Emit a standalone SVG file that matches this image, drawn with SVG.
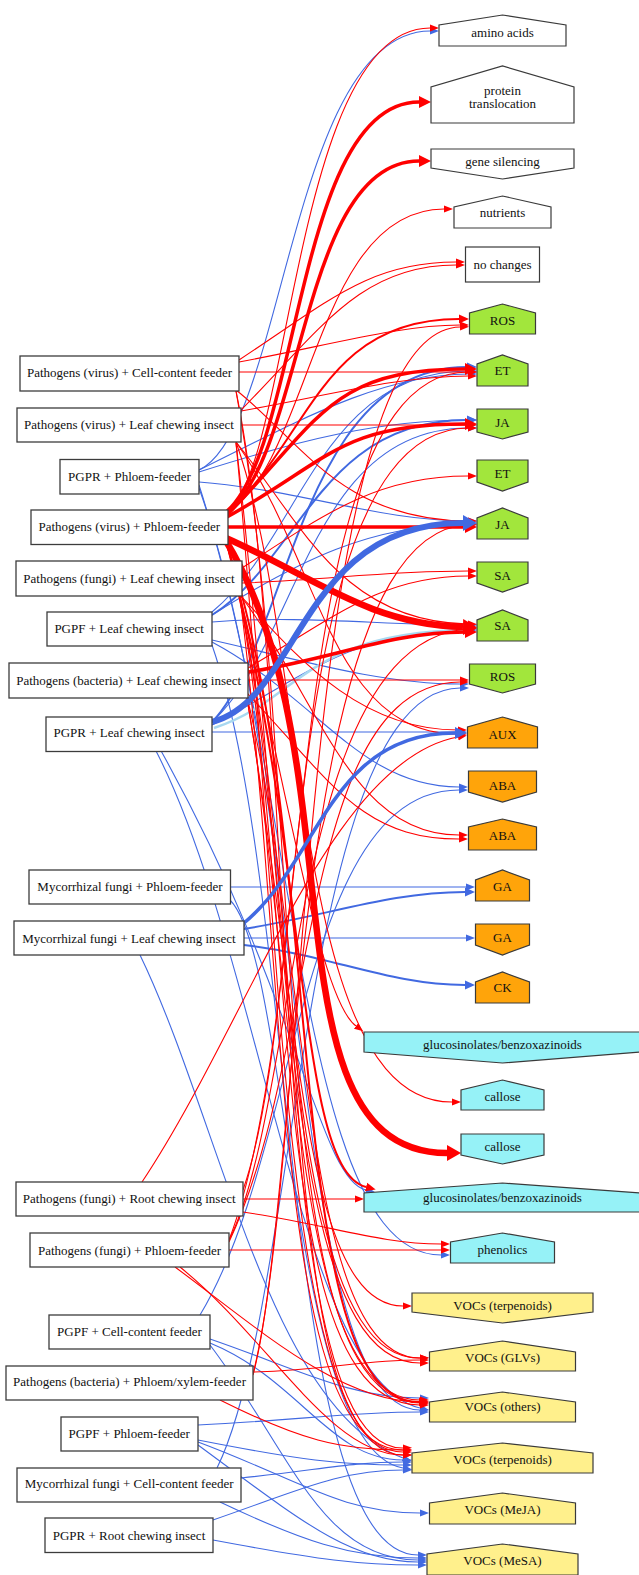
<svg xmlns="http://www.w3.org/2000/svg" width="639" height="1575" viewBox="0 0 639 1575">
<style>
  .e path{fill:none}
  .r1{stroke:#ff0000;stroke-width:1.1;marker-end:url(#ar1)}
  .r2{stroke:#ff0000;stroke-width:2;marker-end:url(#ar2)}
  .r3{stroke:#ff0000;stroke-width:3.5;marker-end:url(#ar3)}
  .r4{stroke:#ff0000;stroke-width:6.5;marker-end:url(#ar4)}
  .b1{stroke:#4169e1;stroke-width:1.1;marker-end:url(#ab1)}
  .b2{stroke:#4169e1;stroke-width:2;marker-end:url(#ab2)}
  .b3{stroke:#4169e1;stroke-width:3.5;marker-end:url(#ab3)}
  .b4{stroke:#4169e1;stroke-width:6;marker-end:url(#ab4)}
  .lb{stroke:#a8d8f0;stroke-width:2.5}
  .src rect{fill:#ffffff;stroke:#3c3c3c;stroke-width:1.3}
  .tg polygon,.tg rect{stroke:#3a3a3a;stroke-width:1.2}
  .wh{fill:#ffffff}
  .gr{fill:#a2e63c}
  .or{fill:#ffa40a}
  .cy{fill:#96f2f7}
  .ye{fill:#fff08c}
  text{font-family:"Liberation Serif","Times New Roman",serif;font-size:13px;fill:#111111;text-anchor:middle}
</style>
<defs>
  <marker id="ar1" markerUnits="userSpaceOnUse" viewBox="0 -5 10 10" markerWidth="10" markerHeight="10" refX="0" refY="0" orient="auto"><path d="M0,-3.5L9,0L0,3.5z" fill="#ff0000"/></marker>
  <marker id="ar2" markerUnits="userSpaceOnUse" viewBox="0 -6 12 12" markerWidth="12" markerHeight="12" refX="0" refY="0" orient="auto"><path d="M0,-4.5L10,0L0,4.5z" fill="#ff0000"/></marker>
  <marker id="ar3" markerUnits="userSpaceOnUse" viewBox="0 -7 13 14" markerWidth="13" markerHeight="14" refX="0" refY="0" orient="auto"><path d="M0,-6L12,0L0,6z" fill="#ff0000"/></marker>
  <marker id="ar4" markerUnits="userSpaceOnUse" viewBox="0 -9 15 18" markerWidth="15" markerHeight="18" refX="0" refY="0" orient="auto"><path d="M0,-8L14,0L0,8z" fill="#ff0000"/></marker>
  <marker id="ab1" markerUnits="userSpaceOnUse" viewBox="0 -5 10 10" markerWidth="10" markerHeight="10" refX="0" refY="0" orient="auto"><path d="M0,-3.5L9,0L0,3.5z" fill="#4169e1"/></marker>
  <marker id="ab2" markerUnits="userSpaceOnUse" viewBox="0 -6 12 12" markerWidth="12" markerHeight="12" refX="0" refY="0" orient="auto"><path d="M0,-4.5L10,0L0,4.5z" fill="#4169e1"/></marker>
  <marker id="ab3" markerUnits="userSpaceOnUse" viewBox="0 -7 13 14" markerWidth="13" markerHeight="14" refX="0" refY="0" orient="auto"><path d="M0,-6L12,0L0,6z" fill="#4169e1"/></marker>
  <marker id="ab4" markerUnits="userSpaceOnUse" viewBox="0 -9 15 18" markerWidth="15" markerHeight="18" refX="0" refY="0" orient="auto"><path d="M0,-8L14,0L0,8z" fill="#4169e1"/></marker>
</defs>

<!-- connectors: pathogen combinations in red, beneficial microbes in blue -->
<g id="edges" class="e">
  <!-- thin blue -->
  <path class="b1" d="M199,470 C285,430 290,32 430,31"/>
  <path class="b1" d="M199,470 C300,420 380,375 468,374"/>
  <path class="b1" d="M199,472 C300,440 380,420 468,420"/>
  <path class="b1" d="M199,482 C300,490 380,521 468,521"/>
  <path class="b1" d="M199,485 C300,800 300,1255 441,1255"/>
  <path class="b1" d="M199,488 C310,800 290,1410 420,1410"/>
  <path class="b1" d="M212,612 C300,540 320,371 468,371"/>
  <path class="b1" d="M212,615 C300,560 370,525 468,524"/>
  <path class="b1" d="M212,622 C300,615 380,625 468,625"/>
  <path class="b1" d="M212,640 C300,660 380,684 460,684"/>
  <path class="b1" d="M212,642 C320,700 360,787 459,787"/>
  <path class="b1" d="M212,645 C300,900 280,1555 418,1555"/>
  <path class="b1" d="M212,722 C300,640 310,428 468,428"/>
  <path class="b1" d="M212,725 C300,680 350,630 468,630"/>
  <path class="b1" d="M212,732 L458,732"/>
  <path class="b1" d="M160,749 C300,1000 320,1180 366,1190"/>
  <path class="b1" d="M155,749 C260,950 300,1380 420,1408"/>
  <path class="b1" d="M231,887 L466,887"/>
  <path class="b1" d="M230,900 C290,960 290,1450 403,1468"/>
  <path class="b1" d="M244,938 L466,938"/>
  <path class="b1" d="M140,955 C220,1120 270,1410 403,1458"/>
  <path class="b1" d="M200,1315 C300,1150 300,790 459,790"/>
  <path class="b1" d="M210,1339 C300,1370 350,1398 420,1398"/>
  <path class="b1" d="M210,1343 C300,1380 330,1460 403,1460"/>
  <path class="b1" d="M210,1345 C290,1450 320,1560 418,1560"/>
  <path class="b1" d="M198,1425 C300,1420 350,1412 420,1412"/>
  <path class="b1" d="M198,1440 C300,1460 340,1465 403,1465"/>
  <path class="b1" d="M198,1442 C300,1480 340,1513 420,1513"/>
  <path class="b1" d="M198,1445 C300,1520 350,1562 418,1562"/>
  <path class="b1" d="M217,1468 C300,1300 300,690 460,688"/>
  <path class="b1" d="M241,1478 C320,1470 350,1462 403,1462"/>
  <path class="b1" d="M220,1502 C300,1540 350,1558 418,1558"/>
  <path class="b1" d="M213,1520 C300,1490 340,1470 403,1470"/>
  <path class="b1" d="M213,1540 C320,1560 360,1565 418,1565"/>
  <!-- medium blue -->
  <path class="b2" d="M212,722 C290,640 300,367 467,367"/>
  <path class="b2" d="M212,615 C300,560 320,420 467,420"/>
  <path class="b2" d="M244,929 C330,915 390,892 465,892"/>
  <path class="b2" d="M244,945 C330,955 390,985 465,985"/>
  <path class="lb" d="M214,728 C300,700 305,632 468,630"/>

  <!-- thin red -->
  <path class="r1" d="M225,514 C292,470 292,28 430,28"/>
  <path class="r1" d="M226,514 C312,460 315,209 444,209"/>
  <path class="r1" d="M239,360 C330,300 370,262 456,262"/>
  <path class="r1" d="M241,410 C320,330 360,265 456,265"/>
  <path class="r1" d="M239,362 C330,345 400,325 460,325"/>
  <path class="r1" d="M239,372 L468,372"/>
  <path class="r1" d="M241,411 C330,395 400,376 468,376"/>
  <path class="r1" d="M241,425 L468,425"/>
  <path class="r1" d="M242,568 C330,510 380,476 468,476"/>
  <path class="r1" d="M236,390 C300,440 340,520 468,521"/>
  <path class="r1" d="M242,583 C330,580 380,571 468,571"/>
  <path class="r1" d="M248,668 C330,620 380,576 468,576"/>
  <path class="r1" d="M236,442 C300,520 340,622 468,624"/>
  <path class="r1" d="M248,680 L460,680"/>
  <path class="r1" d="M240,595 C300,660 360,730 458,730"/>
  <path class="r1" d="M236,442 C320,560 330,734 458,734"/>
  <path class="r1" d="M240,595 C320,700 350,835 459,835"/>
  <path class="r1" d="M246,692 C330,780 360,839 459,839"/>
  <path class="r1" d="M240,596 C290,800 320,1000 356,1026"/>
  <path class="r1" d="M236,442 C310,650 290,1102 452,1102"/>
  <path class="r1" d="M243,1199 L355,1199"/>
  <path class="r1" d="M243,1212 C330,1225 380,1244 441,1244"/>
  <path class="r1" d="M229,1250 L441,1250"/>
  <path class="r1" d="M246,693 C300,1000 300,1306 403,1306"/>
  <path class="r1" d="M253,1372 C330,1370 360,1360 420,1360"/>
  <path class="r1" d="M236,443 C290,900 280,1363 420,1363"/>
  <path class="r1" d="M175,1267 C260,1330 340,1402 420,1402"/>
  <path class="r1" d="M220,1400 C300,1440 340,1450 403,1450"/>
  <path class="r1" d="M180,1267 C270,1340 330,1455 403,1455"/>
  <path class="r1" d="M142,1182 C250,1020 330,760 458,737"/>
  <path class="r1" d="M226,542 C300,800 270,1361 420,1358"/>
  <path class="r1" d="M236,391 C300,700 260,1450 403,1448"/>
  <path class="r1" d="M226,542 C320,900 270,1452 403,1452"/>
  <path class="r1" d="M240,597 C300,950 270,1405 420,1405"/>
  <path class="r1" d="M229,1240 C300,1100 290,640 468,629"/>
  <path class="r1" d="M236,391 C310,800 260,1400 420,1403"/>
  <path class="r1" d="M236,443 C280,900 280,1455 403,1455"/>
  <path class="r1" d="M240,597 C290,1000 275,1450 403,1450"/>
  <path class="r1" d="M246,693 C300,1000 290,1400 420,1400"/>
  <path class="r1" d="M246,693 C310,950 300,1358 420,1358"/>
  <path class="r1" d="M229,1240 C320,1000 280,372 468,372"/>
  <path class="r1" d="M253,1375 C300,1200 290,530 468,525"/>
  <path class="r1" d="M243,1190 C310,1000 280,430 468,428"/>
  <path class="r1" d="M229,1242 C320,1050 300,684 460,682"/>
  <path class="r1" d="M253,1374 C310,1150 300,330 460,327"/>
  <!-- medium and thick red -->
  <path class="r2" d="M226,514 C310,440 320,319 459,319"/>
  <path class="r2" d="M240,597 C310,900 300,1170 366,1187"/>
  <path class="r2" d="M226,542 C330,850 280,1402 419,1402"/>
  <path class="r3" d="M226,512 C300,450 296,102 419,102"/>
  <path class="r3" d="M226,513 C305,455 300,161 419,161"/>
  <path class="r3" d="M227,515 C320,420 330,369 465,369"/>
  <path class="r3" d="M227,517 C330,460 340,424 465,424"/>
  <path class="r3" d="M228,527 L465,527"/>
  <path class="r3" d="M248,672 C330,660 390,632 465,632"/>
  <path class="r4" d="M226,538 C310,575 370,625 463,627"/>
  <path class="r4" d="M226,541 C360,760 260,1153 447,1153"/>
  <!-- thick blue -->
  <path class="b3" d="M244,923 C320,860 330,733 455,733"/>
  <path class="b4" d="M212,722 C300,700 300,523 463,523"/>
</g>

<!-- interaction nodes -->
<g id="n_virus_cellcontent" class="src"><rect x="20" y="356" width="219" height="35"/><text x="129.5" y="376.5">Pathogens (virus) + Cell-content feeder</text></g>
<g id="n_virus_leafchewing" class="src"><rect x="17" y="408" width="224" height="34"/><text x="129" y="428.5">Pathogens (virus) + Leaf chewing insect</text></g>
<g id="n_pgpr_phloem" class="src"><rect x="60" y="459.5" width="139" height="34.5"/><text x="129.5" y="481">PGPR + Phloem-feeder</text></g>
<g id="n_virus_phloem" class="src"><rect x="31" y="510" width="197" height="34.5"/><text x="129.3" y="531">Pathogens (virus) + Phloem-feeder</text></g>
<g id="n_fungi_leafchewing" class="src"><rect x="16" y="561" width="226" height="35"/><text x="129" y="582.5">Pathogens (fungi) + Leaf chewing insect</text></g>
<g id="n_pgpf_leafchewing" class="src"><rect x="47" y="612" width="165" height="34"/><text x="129.2" y="633">PGPF + Leaf chewing insect</text></g>
<g id="n_bacteria_leafchewing" class="src"><rect x="9" y="663" width="239" height="35"/><text x="128.7" y="684.5">Pathogens (bacteria) + Leaf chewing insect</text></g>
<g id="n_pgpr_leafchewing" class="src"><rect x="46" y="717" width="166" height="34.5"/><text x="129" y="737">PGPR + Leaf chewing insect</text></g>
<g id="n_myc_phloem" class="src"><rect x="29" y="870" width="201.5" height="34"/><text x="130" y="891">Mycorrhizal fungi + Phloem-feeder</text></g>
<g id="n_myc_leafchewing" class="src"><rect x="14" y="921" width="230" height="34"/><text x="129" y="942.5">Mycorrhizal fungi + Leaf chewing insect</text></g>
<g id="n_fungi_rootchewing" class="src"><rect x="16" y="1182" width="227" height="34"/><text x="129.2" y="1202.5">Pathogens (fungi) + Root chewing insect</text></g>
<g id="n_fungi_phloem" class="src"><rect x="30" y="1233" width="199" height="34"/><text x="129.5" y="1254.5">Pathogens (fungi) + Phloem-feeder</text></g>
<g id="n_pgpf_cellcontent" class="src"><rect x="49" y="1315" width="161" height="34"/><text x="129.5" y="1335.5">PGPF + Cell-content feeder</text></g>
<g id="n_bacteria_phloemxylem" class="src"><rect x="6" y="1366" width="247" height="34"/><text x="129.5" y="1386">Pathogens (bacteria) + Phloem/xylem-feeder</text></g>
<g id="n_pgpf_phloem" class="src"><rect x="61" y="1417" width="137" height="34"/><text x="129.2" y="1437.5">PGPF + Phloem-feeder</text></g>
<g id="n_myc_cellcontent" class="src"><rect x="17" y="1468" width="224" height="34"/><text x="129.2" y="1487.5">Mycorrhizal fungi + Cell-content feeder</text></g>
<g id="n_pgpr_rootchewing" class="src"><rect x="45" y="1518" width="168" height="34.5"/><text x="129" y="1539.5">PGPR + Root chewing insect</text></g>

<!-- plant response nodes -->
<g id="r_amino" class="tg"><polygon class="wh" points="439,46 439,25 502.5,15 566,25 566,46"/><text x="502.5" y="36.5">amino acids</text></g>
<g id="r_protein" class="tg"><polygon class="wh" points="431,123 431,87 502.5,66 574,87 574,123"/><text x="502.5" y="94.5">protein</text><text x="502.5" y="108">translocation</text></g>
<g id="r_silencing" class="tg"><polygon class="wh" points="431,149 574,149 574,168 502.5,179 431,168"/><text x="502.5" y="166">gene silencing</text></g>
<g id="r_nutrients" class="tg"><polygon class="wh" points="454,228 454,207 502.5,196 551,207 551,228"/><text x="502.5" y="216.5">nutrients</text></g>
<g id="r_nochange" class="tg"><rect class="wh" x="465.5" y="247" width="74" height="35"/><text x="502.5" y="268.5">no changes</text></g>
<g id="r_ros1" class="tg"><polygon class="gr" points="469.5,334 469.5,313 502.5,304 535.5,313 535.5,334"/><text x="502.5" y="324.5">ROS</text></g>
<g id="r_et1" class="tg"><polygon class="gr" points="477,386 477,364 502.5,355 528,364 528,386"/><text x="502.5" y="375">ET</text></g>
<g id="r_ja1" class="tg"><polygon class="gr" points="477,409 528,409 528,432 502.5,439 477,432"/><text x="502.5" y="427">JA</text></g>
<g id="r_et2" class="tg"><polygon class="gr" points="477,460 528,460 528,482 502.5,491 477,482"/><text x="502.5" y="478">ET</text></g>
<g id="r_ja2" class="tg"><polygon class="gr" points="477,539 477,518 502.5,508 528,518 528,539"/><text x="502.5" y="528.5">JA</text></g>
<g id="r_sa1" class="tg"><polygon class="gr" points="477,562 528,562 528,583 502.5,592 477,583"/><text x="502.5" y="579.5">SA</text></g>
<g id="r_sa2" class="tg"><polygon class="gr" points="477,641 477,620 502.5,610 528,620 528,641"/><text x="502.5" y="630">SA</text></g>
<g id="r_ros2" class="tg"><polygon class="gr" points="469.5,664 535.5,664 535.5,684 502.5,693 469.5,684"/><text x="502.5" y="681">ROS</text></g>
<g id="r_aux" class="tg"><polygon class="or" points="467.5,748 467.5,727 502.5,717 537.5,727 537.5,748"/><text x="502.5" y="739">AUX</text></g>
<g id="r_aba1" class="tg"><polygon class="or" points="468.5,771 536.5,771 536.5,792 502.5,802 468.5,792"/><text x="502.5" y="789.5">ABA</text></g>
<g id="r_aba2" class="tg"><polygon class="or" points="468.5,850 468.5,827 502.5,819 536.5,827 536.5,850"/><text x="502.5" y="840">ABA</text></g>
<g id="r_ga1" class="tg"><polygon class="or" points="475.5,901 475.5,880 502.5,870 529.5,880 529.5,901"/><text x="502.5" y="890.5">GA</text></g>
<g id="r_ga2" class="tg"><polygon class="or" points="475.5,924 529.5,924 529.5,945 502.5,955 475.5,945"/><text x="502.5" y="942">GA</text></g>
<g id="r_ck" class="tg"><polygon class="or" points="475.5,1003 475.5,982 502.5,972 529.5,982 529.5,1003"/><text x="502.5" y="992">CK</text></g>
<g id="r_gluc1" class="tg"><polygon class="cy" points="364,1032 641,1032 641,1052 502.5,1063 364,1052"/><text x="502.5" y="1048.5">glucosinolates/benzoxazinoids</text></g>
<g id="r_callose1" class="tg"><polygon class="cy" points="461,1110 461,1090 502.5,1080 544,1090 544,1110"/><text x="502.5" y="1101">callose</text></g>
<g id="r_callose2" class="tg"><polygon class="cy" points="461,1134 544,1134 544,1155 502.5,1164 461,1155"/><text x="502.5" y="1151">callose</text></g>
<g id="r_gluc2" class="tg"><polygon class="cy" points="364,1212 364,1193 502.5,1183 641,1193 641,1212"/><text x="502.5" y="1201.5">glucosinolates/benzoxazinoids</text></g>
<g id="r_phenolics" class="tg"><polygon class="cy" points="450.5,1263 450.5,1242 502.5,1233 554.5,1242 554.5,1263"/><text x="502.5" y="1253.5">phenolics</text></g>
<g id="r_terp1" class="tg"><polygon class="ye" points="412,1293 593,1293 593,1312 502.5,1323 412,1312"/><text x="502.5" y="1309.5">VOCs (terpenoids)</text></g>
<g id="r_glv" class="tg"><polygon class="ye" points="429.5,1371 429.5,1352 502.5,1341 575.5,1352 575.5,1371"/><text x="502.5" y="1361.5">VOCs (GLVs)</text></g>
<g id="r_others" class="tg"><polygon class="ye" points="429.5,1422 429.5,1402 502.5,1392 575.5,1402 575.5,1422"/><text x="502.5" y="1411">VOCs (others)</text></g>
<g id="r_terp2" class="tg"><polygon class="ye" points="412,1473 412,1453 502.5,1443 593,1453 593,1473"/><text x="502.5" y="1463.5">VOCs (terpenoids)</text></g>
<g id="r_meja" class="tg"><polygon class="ye" points="429.5,1524 429.5,1503 502.5,1493 575.5,1503 575.5,1524"/><text x="502.5" y="1513.5">VOCs (MeJA)</text></g>
<g id="r_mesa" class="tg"><polygon class="ye" points="427,1575 427,1554 502.5,1544 578,1554 578,1575"/><text x="502.5" y="1564.5">VOCs (MeSA)</text></g>
</svg>
